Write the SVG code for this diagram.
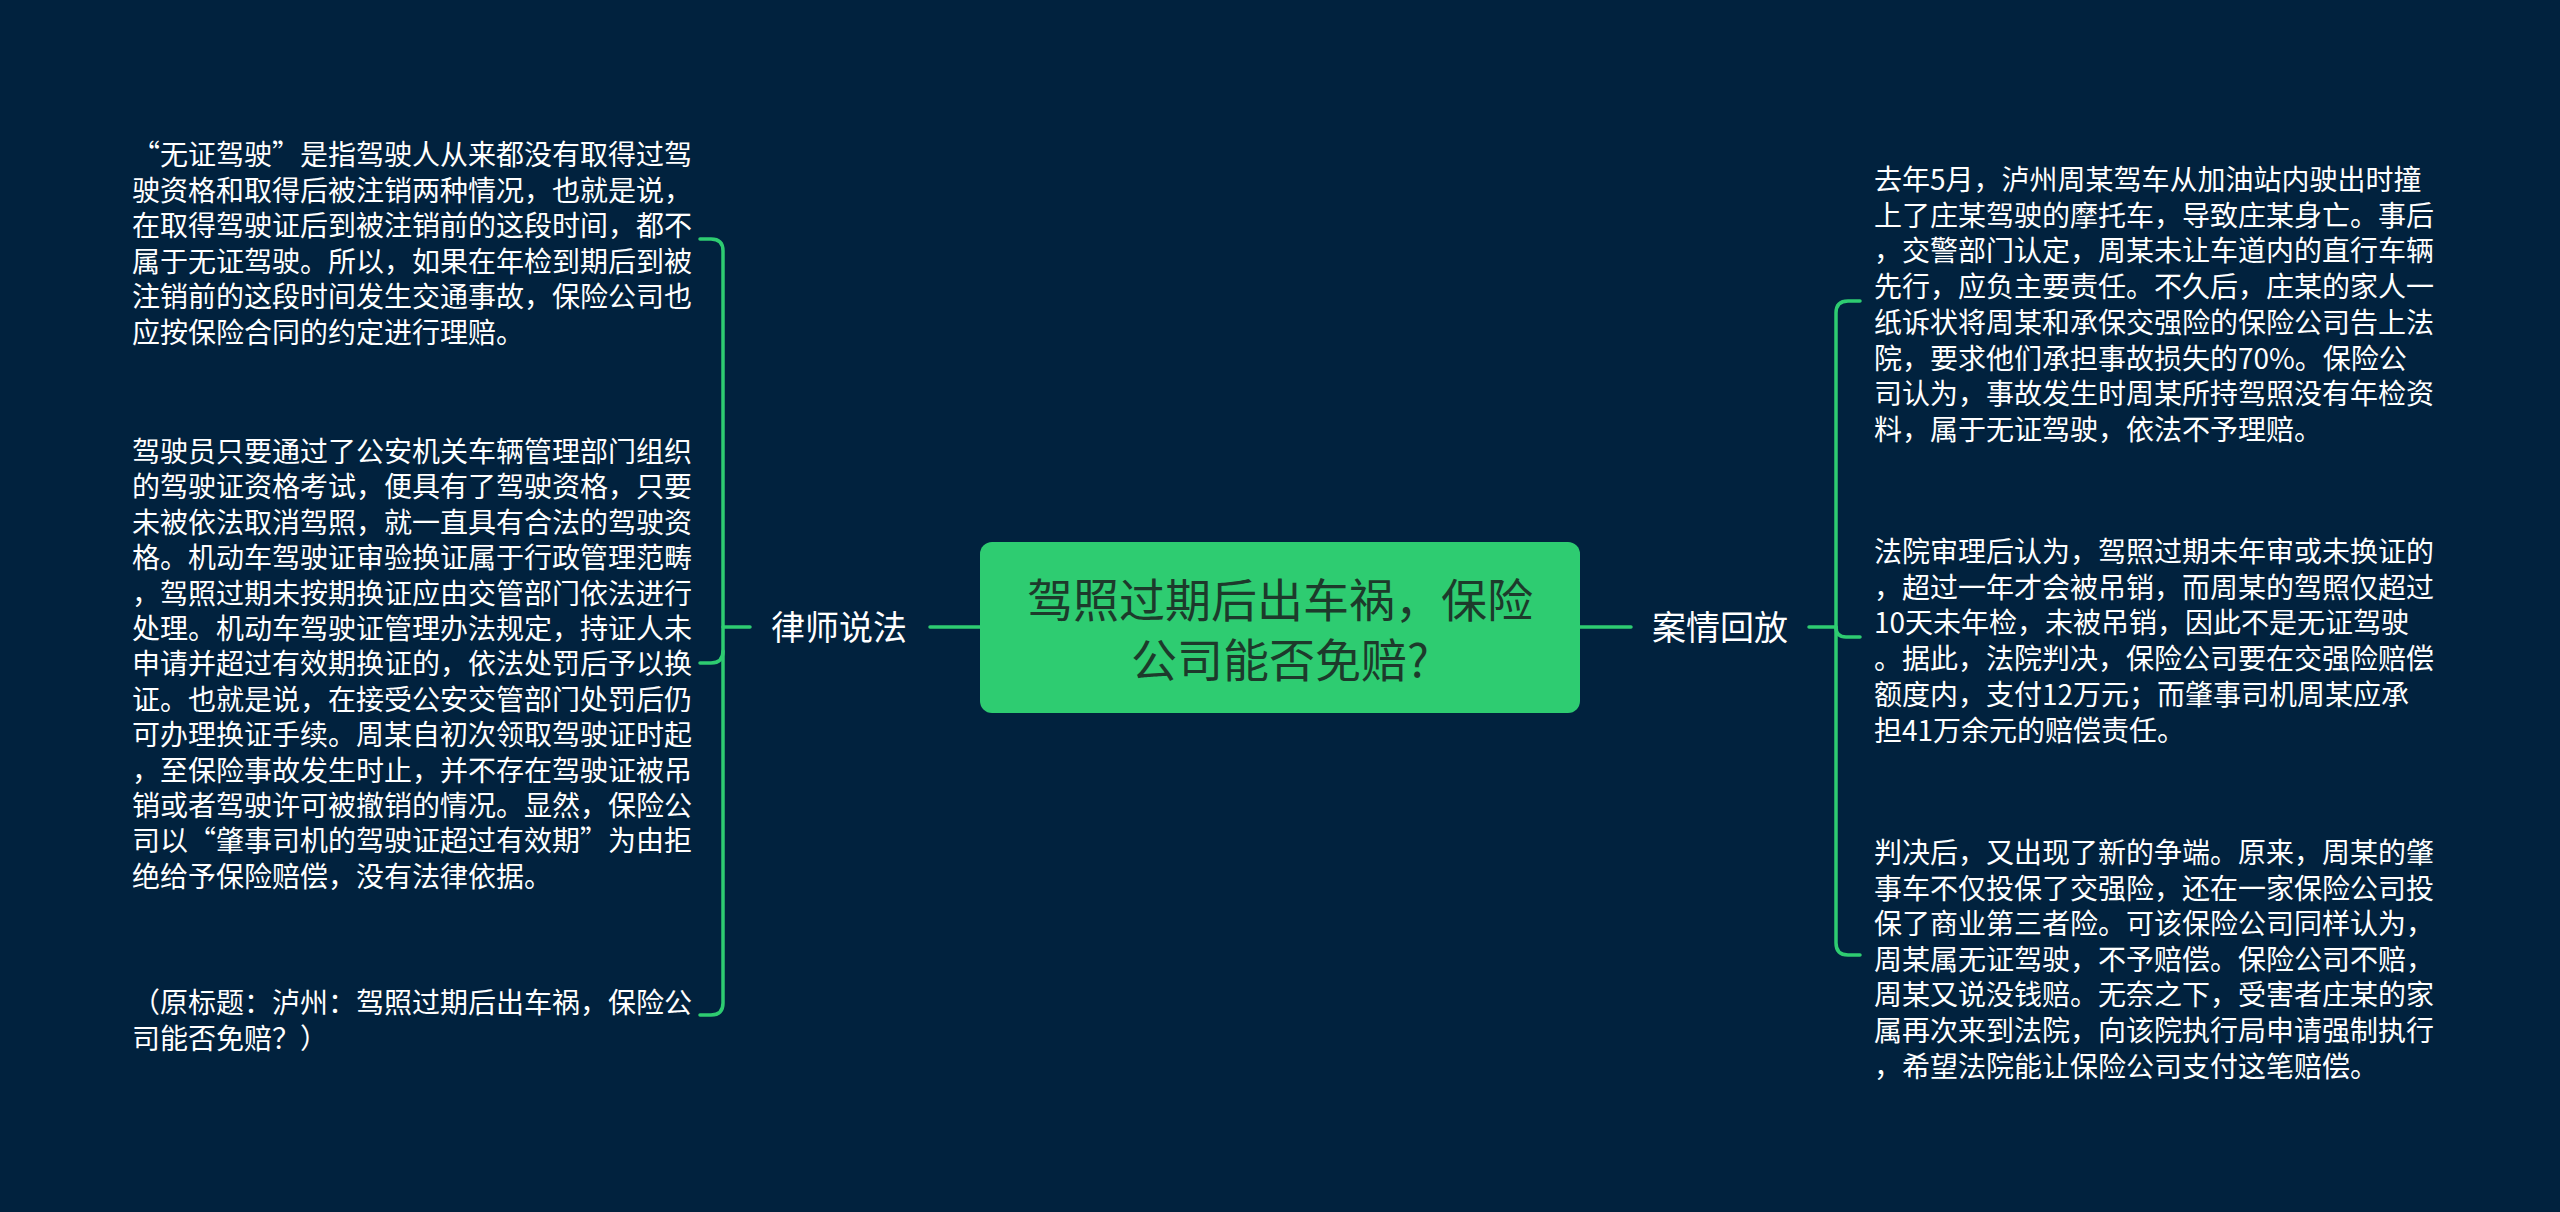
<svg xmlns="http://www.w3.org/2000/svg" width="2560" height="1212" viewBox="0 0 2560 1212">
<style>
.bg{fill:#01223e}
.link{fill:none;stroke:#2ecc71;stroke-width:3.5;stroke-linecap:round;stroke-linejoin:round}
.root{fill:#2ecc71}
.rootText{font-family:"Noto Sans CJK SC","Noto Sans",sans-serif;font-size:46px;fill:#1d3a2b;text-anchor:middle}
.label{font-family:"Noto Sans CJK SC","Noto Sans",sans-serif;font-size:34px;fill:#ffffff;text-anchor:middle}
.body{font-family:"Noto Sans CJK SC","Noto Sans",sans-serif;font-size:28px;fill:#ffffff}
</style>
<rect class="bg" x="0" y="0" width="2560" height="1212"/>
<g id="connectors">
<path class="link" d="M980 627 H930"/>
<path class="link" d="M1580 627 H1631"/>
<path class="link" d="M750 627 H723"/>
<path class="link" d="M700 239 H711 Q723 239 723 251 V1003 Q723 1015 711 1015 H700"/>
<path class="link" d="M723 651 Q723 663 711 663 H700"/>
<path class="link" d="M1809 627 H1836"/>
<path class="link" d="M1860 301 H1848 Q1836 301 1836 313 V943 Q1836 955 1848 955 H1860"/>
<path class="link" d="M1836 627 Q1836 637 1846 637 H1860"/>
</g>
<g id="root">
<rect class="root" x="980" y="542" width="600" height="171" rx="12" ry="12"/>
<text class="rootText" x="1280" y="617">驾照过期后出车祸，保险</text>
<text class="rootText" x="1280" y="677">公司能否免赔?</text>
</g>
<g id="lawyer">
<text class="label" x="839" y="640">律师说法</text>
</g>
<g id="case">
<text class="label" x="1720" y="640">案情回放</text>
</g>
<g id="lawyer-1">
<text class="body" x="132" y="165"><tspan x="132">“无证驾驶”是指驾驶人从来都没有取得过驾</tspan><tspan x="132" dy="35.6">驶资格和取得后被注销两种情况，也就是说，</tspan><tspan x="132" dy="35.6">在取得驾驶证后到被注销前的这段时间，都不</tspan><tspan x="132" dy="35.6">属于无证驾驶。所以，如果在年检到期后到被</tspan><tspan x="132" dy="35.6">注销前的这段时间发生交通事故，保险公司也</tspan><tspan x="132" dy="35.6">应按保险合同的约定进行理赔。</tspan></text>
</g>
<g id="lawyer-2">
<text class="body" x="132" y="462"><tspan x="132">驾驶员只要通过了公安机关车辆管理部门组织</tspan><tspan x="132" dy="35.4">的驾驶证资格考试，便具有了驾驶资格，只要</tspan><tspan x="132" dy="35.4">未被依法取消驾照，就一直具有合法的驾驶资</tspan><tspan x="132" dy="35.4">格。机动车驾驶证审验换证属于行政管理范畴</tspan><tspan x="132" dy="35.4">，驾照过期未按期换证应由交管部门依法进行</tspan><tspan x="132" dy="35.4">处理。机动车驾驶证管理办法规定，持证人未</tspan><tspan x="132" dy="35.4">申请并超过有效期换证的，依法处罚后予以换</tspan><tspan x="132" dy="35.4">证。也就是说，在接受公安交管部门处罚后仍</tspan><tspan x="132" dy="35.4">可办理换证手续。周某自初次领取驾驶证时起</tspan><tspan x="132" dy="35.4">，至保险事故发生时止，并不存在驾驶证被吊</tspan><tspan x="132" dy="35.4">销或者驾驶许可被撤销的情况。显然，保险公</tspan><tspan x="132" dy="35.4">司以“肇事司机的驾驶证超过有效期”为由拒</tspan><tspan x="132" dy="35.4">绝给予保险赔偿，没有法律依据。</tspan></text>
</g>
<g id="lawyer-3">
<text class="body" x="132" y="1013"><tspan x="132">（原标题：泸州：驾照过期后出车祸，保险公</tspan><tspan x="132" dy="35.6">司能否免赔？）</tspan></text>
</g>
<g id="case-1">
<text class="body" x="1874" y="190"><tspan x="1874">去年5月，泸州周某驾车从加油站内驶出时撞</tspan><tspan x="1874" dy="35.7">上了庄某驾驶的摩托车，导致庄某身亡。事后</tspan><tspan x="1874" dy="35.7">，交警部门认定，周某未让车道内的直行车辆</tspan><tspan x="1874" dy="35.7">先行，应负主要责任。不久后，庄某的家人一</tspan><tspan x="1874" dy="35.7">纸诉状将周某和承保交强险的保险公司告上法</tspan><tspan x="1874" dy="35.7">院，要求他们承担事故损失的70%。保险公</tspan><tspan x="1874" dy="35.7">司认为，事故发生时周某所持驾照没有年检资</tspan><tspan x="1874" dy="35.7">料，属于无证驾驶，依法不予理赔。</tspan></text>
</g>
<g id="case-2">
<text class="body" x="1874" y="562"><tspan x="1874">法院审理后认为，驾照过期未年审或未换证的</tspan><tspan x="1874" dy="35.7">，超过一年才会被吊销，而周某的驾照仅超过</tspan><tspan x="1874" dy="35.7">10天未年检，未被吊销，因此不是无证驾驶</tspan><tspan x="1874" dy="35.7">。据此，法院判决，保险公司要在交强险赔偿</tspan><tspan x="1874" dy="35.7">额度内，支付12万元；而肇事司机周某应承</tspan><tspan x="1874" dy="35.7">担41万余元的赔偿责任。</tspan></text>
</g>
<g id="case-3">
<text class="body" x="1874" y="863"><tspan x="1874">判决后，又出现了新的争端。原来，周某的肇</tspan><tspan x="1874" dy="35.6">事车不仅投保了交强险，还在一家保险公司投</tspan><tspan x="1874" dy="35.6">保了商业第三者险。可该保险公司同样认为，</tspan><tspan x="1874" dy="35.6">周某属无证驾驶，不予赔偿。保险公司不赔，</tspan><tspan x="1874" dy="35.6">周某又说没钱赔。无奈之下，受害者庄某的家</tspan><tspan x="1874" dy="35.6">属再次来到法院，向该院执行局申请强制执行</tspan><tspan x="1874" dy="35.6">，希望法院能让保险公司支付这笔赔偿。</tspan></text>
</g>
</svg>
